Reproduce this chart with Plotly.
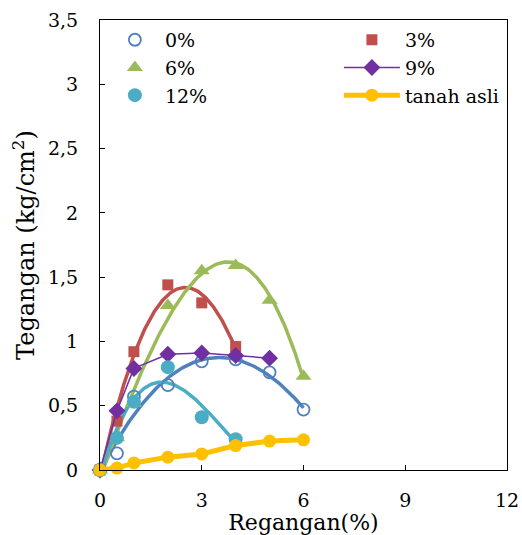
import numpy as np
import plotly.graph_objects as go

# Regangan (strain, %) and tegangan (stress, kg/cm2) per additive content
x_0 = [0, 0.5, 1, 2, 3, 4, 5, 6]
y_0 = [0, 0.13, 0.57, 0.66, 0.845, 0.86, 0.76, 0.47]

x_3 = [0, 0.5, 1, 2, 3, 4]
y_3 = [0, 0.38, 0.92, 1.44, 1.30, 0.96]

x_6 = [0, 0.5, 1, 2, 3, 4, 5, 6]
y_6 = [0, 0.25, 0.52, 1.28, 1.55, 1.59, 1.32, 0.73]

x_9 = [0, 0.5, 1, 2, 3, 4, 5]
y_9 = [0, 0.46, 0.79, 0.90, 0.91, 0.89, 0.87]

x_12 = [0, 0.5, 1, 2, 3, 4]
y_12 = [0, 0.25, 0.53, 0.80, 0.41, 0.24]

x_asli = [0, 0.5, 1, 2, 3, 4, 5, 6]
y_asli = [0, 0.015, 0.055, 0.10, 0.125, 0.19, 0.225, 0.235]

x_ticks = [0, 3, 6, 9, 12]
y_ticks = [0, 0.5, 1, 1.5, 2, 2.5, 3, 3.5]

FONT = "DejaVu Serif"

C0 = "#4F81BD"
C3 = "#C0504D"
C6 = "#9BBB59"
C9 = "#7030A0"
C12 = "#4BACC6"
CASLI = "#FFC000"


def trend(xs, ys, deg):
    """Polynomial trendline evaluated on a dense grid."""
    coef = np.polyfit(xs, ys, deg)
    xx = np.linspace(min(xs), max(xs), 200)
    return xx, np.polyval(coef, xx)


fig = go.Figure()

# polynomial trendlines (drawn beneath the markers)
for xs, ys, col, deg in [(x_0, y_0, C0, 3), (x_3, y_3, C3, 3),
                         (x_6, y_6, C6, 3), (x_12, y_12, C12, 3)]:
    tx, ty = trend(xs, ys, deg)
    fig.add_trace(go.Scatter(x=tx, y=ty, mode="lines",
                             line=dict(color=col, width=3.5),
                             showlegend=False, hoverinfo="skip",
                             cliponaxis=False))

# left legend column: 0%, 6%, 12%; right column: 3%, 9%, tanah asli
fig.add_trace(go.Scatter(x=x_0, y=y_0, mode="markers", name="0%",
                         legend="legend", legendrank=1,
                         marker=dict(symbol="circle-open", size=12, color=C0,
                                     line=dict(width=1.8, color=C0)),
                         cliponaxis=False))
fig.add_trace(go.Scatter(x=x_3, y=y_3, mode="markers", name="3%",
                         legend="legend2", legendrank=1,
                         marker=dict(symbol="square", size=11, color=C3),
                         cliponaxis=False))
fig.add_trace(go.Scatter(x=x_6, y=y_6, mode="markers", name="6%",
                         legend="legend", legendrank=2,
                         marker=dict(symbol="triangle-up", size=14, color=C6),
                         cliponaxis=False))
fig.add_trace(go.Scatter(x=x_9, y=y_9, mode="lines+markers", name="9%",
                         legend="legend2", legendrank=2,
                         line=dict(color=C9, width=1.5),
                         marker=dict(symbol="diamond", size=13, color=C9),
                         cliponaxis=False))
fig.add_trace(go.Scatter(x=x_12, y=y_12, mode="markers", name="12%",
                         legend="legend", legendrank=3,
                         marker=dict(symbol="circle", size=14, color=C12),
                         cliponaxis=False))
fig.add_trace(go.Scatter(x=x_asli, y=y_asli, mode="lines+markers",
                         name="tanah asli", legend="legend2", legendrank=3,
                         line=dict(color=CASLI, width=5),
                         marker=dict(symbol="circle", size=13, color=CASLI),
                         cliponaxis=False))

axis_common = dict(showline=True, linecolor="black", linewidth=1,
                   mirror=True, ticks="inside", ticklen=5, tickwidth=1,
                   tickcolor="black", showgrid=False, zeroline=False,
                   automargin=False,
                   tickfont=dict(family=FONT, size=19, color="black"))

fig.update_xaxes(range=[0, 12], tickmode="array", tickvals=x_ticks,
                 ticklabelstandoff=13,
                 title=dict(text="Regangan(%)", standoff=4,
                            font=dict(family=FONT, size=22, color="black")),
                 **axis_common)
fig.update_yaxes(range=[0, 3.5], tickmode="array", tickvals=y_ticks,
                 ticktext=[f"{v:g}".replace(".", ",") for v in y_ticks],
                 ticklabelstandoff=17,
                 title=dict(text="Tegangan (kg/cm<sup>2</sup>)", standoff=6,
                            font=dict(family=FONT, size=24, color="black")),
                 **axis_common)

legend_common = dict(xanchor="left", yanchor="top", y=0.998,
                     bgcolor="rgba(0,0,0,0)",
                     font=dict(family=FONT, size=19, color="black"))

fig.update_layout(
    width=522, height=535,
    margin=dict(l=100, r=15, t=20, b=65),
    paper_bgcolor="white", plot_bgcolor="white",
    separators=", ",
    font=dict(family=FONT, color="black"),
    legend=dict(x=0.012, itemwidth=50, **legend_common),
    legend2=dict(x=0.587, itemwidth=56, **legend_common),
)

fig.write_html("out.html")
